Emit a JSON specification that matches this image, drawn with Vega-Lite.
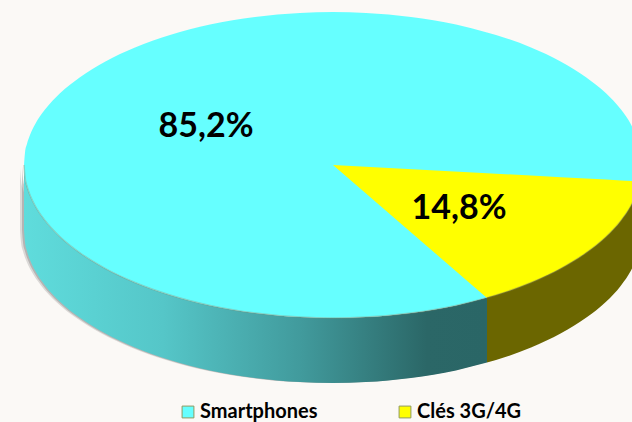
{"$schema":"https://vega.github.io/schema/vega-lite/v6.json","width":632,"height":422,"padding":0,"autosize":{"type":"none"},"background":"#fbf9f6","config":{"view":{"stroke":null}},
"datasets":{"disque":[
{"serie":"Smartphones","x":24,"top":165,"edge":165,"base":230},
{"serie":"Smartphones","x":25,"top":152.7,"edge":177.3,"base":242.3},
{"serie":"Smartphones","x":27,"top":143.7,"edge":186.3,"base":251.3},
{"serie":"Smartphones","x":30,"top":135,"edge":195,"base":260},
{"serie":"Smartphones","x":35,"top":124.5,"edge":205.5,"base":270.5},
{"serie":"Smartphones","x":45,"top":109.6,"edge":220.4,"base":285.4},
{"serie":"Smartphones","x":60,"top":93.3,"edge":236.7,"base":301.7},
{"serie":"Smartphones","x":80,"top":77.2,"edge":252.8,"base":317.8},
{"serie":"Smartphones","x":105,"top":61.7,"edge":268.3,"base":333.3},
{"serie":"Smartphones","x":135,"top":47.5,"edge":282.5,"base":347.5},
{"serie":"Smartphones","x":170,"top":35,"edge":295,"base":360},
{"serie":"Smartphones","x":210,"top":24.6,"edge":305.4,"base":370.4},
{"serie":"Smartphones","x":255,"top":17,"edge":313,"base":378},
{"serie":"Smartphones","x":300,"top":12.9,"edge":317.1,"base":382.1},
{"serie":"Smartphones","x":333,"top":12,"edge":318,"base":383},
{"serie":"Smartphones","x":366,"top":12.9,"edge":317.1,"base":382.1},
{"serie":"Smartphones","x":411,"top":17,"edge":313,"base":378},
{"serie":"Smartphones","x":456,"top":24.6,"edge":305.4,"base":370.4},
{"serie":"Smartphones","x":487,"top":32.4,"edge":297.6,"base":362.6},
{"serie":"Smartphones","x":496,"top":35,"edge":295,"base":360},
{"serie":"Smartphones","x":531,"top":47.5,"edge":282.5,"base":347.5},
{"serie":"Smartphones","x":561,"top":61.7,"edge":268.3,"base":333.3},
{"serie":"Smartphones","x":586,"top":77.2,"edge":252.8,"base":317.8},
{"serie":"Smartphones","x":606,"top":93.3,"edge":236.7,"base":301.7},
{"serie":"Smartphones","x":621,"top":109.6,"edge":220.4,"base":285.4},
{"serie":"Smartphones","x":631,"top":124.5,"edge":205.5,"base":270.5},
{"serie":"Smartphones","x":636,"top":135,"edge":195,"base":260},
{"serie":"Smartphones","x":639,"top":143.7,"edge":186.3,"base":251.3},
{"serie":"Smartphones","x":641,"top":152.7,"edge":177.3,"base":242.3},
{"serie":"Smartphones","x":642,"top":165,"edge":165,"base":230}],
"secteur":[
{"serie":"Clés 3G/4G","x":333,"upper":165,"lower":165},
{"serie":"Clés 3G/4G","x":487,"upper":173.2,"lower":298},
{"serie":"Clés 3G/4G","x":496,"upper":173.7,"lower":296},
{"serie":"Clés 3G/4G","x":531,"upper":175.6,"lower":283.5},
{"serie":"Clés 3G/4G","x":561,"upper":177.2,"lower":269.3},
{"serie":"Clés 3G/4G","x":586,"upper":178.5,"lower":253.8},
{"serie":"Clés 3G/4G","x":606,"upper":179.6,"lower":237.7},
{"serie":"Clés 3G/4G","x":621,"upper":180.4,"lower":221.4},
{"serie":"Clés 3G/4G","x":631,"upper":181,"lower":206.5},
{"serie":"Clés 3G/4G","x":640,"upper":181.4,"lower":182}],
"etiquettes":[{"x":206,"y":127,"label":"85,2%"},{"x":459,"y":209,"label":"14,8%"}]},
"encoding":{"x":{"field":"x","type":"quantitative","scale":{"domain":[0,632]},"axis":null}},
"layer":[
{"data":{"name":"disque"},"mark":{"type":"area","interpolate":"monotone","fill":"#7d7d7d","opacity":0.25,"xOffset":-4,"yOffset":3},"encoding":{"y":{"field":"edge","type":"quantitative","scale":{"domain":[422,0]},"axis":null},"y2":{"field":"base"}}},
{"data":{"name":"disque"},"mark":{"type":"area","interpolate":"monotone","fill":"#7d7d7d","opacity":0.4,"xOffset":-2,"yOffset":1.5},"encoding":{"y":{"field":"edge","type":"quantitative","scale":{"domain":[422,0]},"axis":null},"y2":{"field":"base"}}},
{"data":{"name":"disque"},"transform":[{"filter":"datum.x<=487"}],"mark":{"type":"area","interpolate":"monotone","clip":true,"fill":{"gradient":"linear","x1":0,"y1":0,"x2":1,"y2":0,"stops":[{"offset":0,"color":"#5fdcdc"},{"offset":0.3,"color":"#55c6c8"},{"offset":0.6,"color":"#419a9c"},{"offset":0.87,"color":"#2b6767"},{"offset":1,"color":"#2a6666"}]}},"encoding":{"y":{"field":"edge","type":"quantitative","scale":{"domain":[422,0]},"axis":null},"y2":{"field":"base"}}},
{"data":{"name":"disque"},"mark":{"type":"area","interpolate":"monotone","clip":true},"encoding":{"y":{"field":"top","type":"quantitative","scale":{"domain":[422,0]},"axis":null},"y2":{"field":"edge"},"color":{"field":"serie","type":"nominal","scale":{"domain":["Smartphones","Clés 3G/4G"],"range":["#66ffff","#ffff00"]},"legend":{"title":null,"orient":"none","legendX":178,"legendY":402,"direction":"horizontal","columns":2,"columnPadding":77,"symbolType":"square","symbolSize":140,"symbolStrokeWidth":1,"symbolStrokeColor":"#8f9a5f","labelFont":"Lato","labelFontWeight":"bold","labelFontSize":20,"labelColor":"#000000","labelOffset":2,"labelLimit":200}}}},
{"data":{"name":"secteur"},"mark":{"type":"area","clip":true},"encoding":{"y":{"field":"upper","type":"quantitative","scale":{"domain":[422,0]},"axis":null},"y2":{"field":"lower"},"color":{"field":"serie","type":"nominal"}}},
{"data":{"name":"disque"},"transform":[{"filter":"datum.x>=487"}],"mark":{"type":"area","interpolate":"monotone","clip":true,"fill":"#6b6600"},"encoding":{"y":{"field":"edge","type":"quantitative","scale":{"domain":[422,0]},"axis":null},"y2":{"field":"base"}}},
{"data":{"name":"disque"},"mark":{"type":"line","interpolate":"monotone","stroke":"#8a8a6a","strokeWidth":1.5,"opacity":0.35,"clip":true},"encoding":{"y":{"field":"edge","type":"quantitative","scale":{"domain":[422,0]},"axis":null}}},
{"data":{"name":"etiquettes"},"mark":{"type":"text","font":"Lato","fontWeight":"bold","fontSize":34,"color":"#000000","align":"center","baseline":"middle"},"encoding":{"y":{"field":"y","type":"quantitative","scale":{"domain":[422,0]},"axis":null},"text":{"field":"label"}}}
]}
